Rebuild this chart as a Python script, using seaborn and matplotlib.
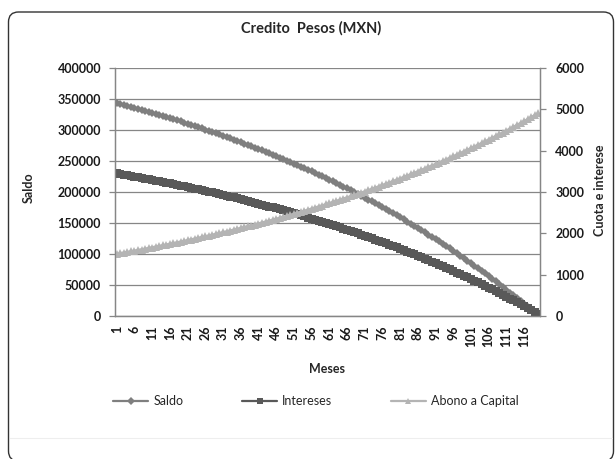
import matplotlib
matplotlib.use("Agg")
import matplotlib.pyplot as plt
import seaborn as sns
from matplotlib.patches import FancyBboxPatch
from matplotlib.transforms import IdentityTransform
from matplotlib.lines import Line2D

meses = list(range(1, 121))

saldo = [343500, 342000, 340500, 338900, 337300, 335800, 334200, 332600, 330900, 329300,
         327600, 326000, 324300, 322600, 320800, 319100, 317400, 315600, 313800, 312000,
         310100, 308300, 306400, 304500, 302600, 300700, 298800, 296800, 294800, 292800,
         290800, 288800, 286700, 284600, 282500, 280400, 278200, 276100, 273900, 271700,
         269400, 267200, 264900, 262600, 260300, 257900, 255600, 253200, 250800, 248300,
         245800, 243300, 240800, 238300, 235700, 233100, 230500, 227900, 225200, 222500,
         219800, 217000, 214200, 211400, 208600, 205700, 202800, 199900, 197000, 194000,
         191000, 187900, 184900, 181800, 178600, 175500, 172300, 169000, 165800, 162500,
         159200, 155800, 152400, 149000, 145500, 142000, 138500, 134900, 131300, 127700,
         124000, 120300, 116600, 112800, 109000, 105100, 101200, 97300, 93300, 89300,
         85200, 81100, 77000, 72800, 68600, 64300, 60000, 55700, 51300, 46800,
         42300, 37800, 33300, 28600, 24000, 19300, 14500, 9700, 4800, 0]

intereses = [3450, 3435, 3420, 3405, 3389, 3373, 3358, 3342, 3326, 3309,
             3293, 3276, 3260, 3243, 3226, 3208, 3191, 3174, 3156, 3138,
             3120, 3101, 3083, 3064, 3045, 3026, 3007, 2988, 2968, 2948,
             2928, 2908, 2888, 2867, 2846, 2825, 2804, 2782, 2761, 2739,
             2717, 2694, 2672, 2649, 2626, 2603, 2579, 2556, 2532, 2508,
             2483, 2458, 2433, 2408, 2383, 2357, 2331, 2305, 2279, 2252,
             2225, 2198, 2170, 2142, 2114, 2086, 2057, 2028, 1999, 1970,
             1940, 1910, 1879, 1849, 1818, 1786, 1755, 1723, 1690, 1658,
             1625, 1592, 1558, 1524, 1490, 1455, 1420, 1385, 1349, 1313,
             1277, 1240, 1203, 1166, 1128, 1090, 1051, 1012, 973, 933,
             893, 852, 811, 770, 728, 686, 643, 600, 557, 513,
             468, 423, 378, 333, 286, 240, 193, 145, 97, 48]

abono = [1500, 1515, 1530, 1545, 1561, 1577, 1592, 1608, 1624, 1641,
         1657, 1674, 1690, 1707, 1724, 1742, 1759, 1776, 1794, 1812,
         1830, 1849, 1867, 1886, 1905, 1924, 1943, 1962, 1982, 2002,
         2022, 2042, 2062, 2083, 2104, 2125, 2146, 2168, 2189, 2211,
         2233, 2256, 2278, 2301, 2324, 2347, 2371, 2394, 2418, 2442,
         2467, 2492, 2517, 2542, 2567, 2593, 2619, 2645, 2671, 2698,
         2725, 2752, 2780, 2808, 2836, 2864, 2893, 2922, 2951, 2980,
         3010, 3040, 3071, 3101, 3132, 3164, 3195, 3227, 3260, 3292,
         3325, 3358, 3392, 3426, 3460, 3495, 3530, 3565, 3601, 3637,
         3673, 3710, 3747, 3784, 3822, 3860, 3899, 3938, 3977, 4017,
         4057, 4098, 4139, 4180, 4222, 4264, 4307, 4350, 4393, 4437,
         4482, 4527, 4572, 4617, 4664, 4710, 4757, 4805, 4853, 4902]

tick_meses = [1, 6, 11, 16, 21, 26, 31, 36, 41, 46, 51, 56, 61, 66, 71, 76, 81, 86,
              91, 96, 101, 106, 111, 116]
left_ticks = [0, 50000, 100000, 150000, 200000, 250000, 300000, 350000, 400000]
right_ticks = [0, 1000, 2000, 3000, 4000, 5000, 6000]

sns.set_theme(style="white")
plt.rcParams['font.family'] = ['Lato', 'DejaVu Sans']

c_saldo = '#7f7f7f'
c_int = '#595959'
c_abono = '#b4b4b4'
c_axis = '#868686'

fig = plt.figure(figsize=(6.16, 4.59), dpi=100)
ax = fig.add_axes([115/616, 1 - 316/459, 425/616, 248/459])
ax2 = ax.twinx()

sns.lineplot(x=meses, y=saldo, ax=ax, color=c_saldo, marker='D', markersize=4.0,
             markeredgewidth=0, linewidth=2.0, legend=False, zorder=3)
sns.lineplot(x=meses, y=intereses, ax=ax2, color=c_int, marker='s', markersize=5.6,
             markeredgewidth=0, linewidth=2.0, legend=False)
sns.lineplot(x=meses, y=abono, ax=ax2, color=c_abono, marker='^', markersize=5.2,
             markeredgewidth=0, linewidth=2.0, legend=False)

ax.set_xlim(0.5, 120.5)
ax.set_ylim(0, 400000)
ax2.set_ylim(0, 6000)
ax.set_yticks(left_ticks)
ax.set_yticklabels([str(v) for v in left_ticks])
ax2.set_yticks(right_ticks)
ax2.set_yticklabels([str(v) for v in right_ticks])
ax.set_xticks(tick_meses)
ax.set_xticklabels([str(v) for v in tick_meses], rotation=90)
ax.set_xticks(meses, minor=True)

ax.grid(axis='y', color=c_axis, linewidth=0.9)
ax.set_axisbelow(True)
for a in (ax, ax2):
    for s in a.spines.values():
        s.set_color(c_axis)
        s.set_linewidth(0.9)
    a.spines['top'].set_visible(False)
ax.tick_params(axis='y', which='major', direction='out', length=4, width=0.9, color=c_axis,
               labelsize=9, pad=6)
ax2.tick_params(axis='y', which='major', direction='out', length=4, width=0.9, color=c_axis,
                labelsize=9, pad=7)
ax.tick_params(axis='x', which='both', direction='out', length=4, width=0.7, color=c_axis,
               labelsize=9, pad=3)
for lab in ax.get_yticklabels() + ax2.get_yticklabels() + ax.get_xticklabels():
    lab.set_fontweight('bold')
    lab.set_color('#1a1a1a')

ax.set_xlabel('Meses', fontsize=9, fontweight='bold', labelpad=11)
ax.set_ylabel('Saldo', fontsize=9, fontweight='bold')
ax.yaxis.set_label_coords((35 - 115) / 425, (316 - 188) / 248)
ax2.set_ylabel('Cuota e interese', fontsize=9, fontweight='bold', rotation=90)
ax2.yaxis.set_label_coords((594 - 115) / 425, (316 - 190) / 248)
fig.text(311/616, 1 - 28/459, 'Credito  Pesos (MXN)', ha='center', va='center',
         fontsize=10.5, fontweight='bold')

handles = [
    Line2D([], [], color=c_saldo, marker='D', markersize=3.6, markeredgewidth=0, linewidth=1.6),
    Line2D([], [], color=c_int, marker='s', markersize=5, markeredgewidth=0, linewidth=1.6),
    Line2D([], [], color=c_abono, marker='^', markersize=4.6, markeredgewidth=0, linewidth=1.6),
]
fig.legend(handles, ['Saldo', 'Intereses', 'Abono a Capital'], loc='center',
           bbox_to_anchor=(316/616, 1 - 401/459), ncol=3, frameon=False, fontsize=9,
           handlelength=2.8, columnspacing=4.7, numpoints=1, handletextpad=0.4)

# chart border (rounded rectangle) and faint separator line
border = FancyBboxPatch((8.5, -2), 605, 449, boxstyle='round,pad=0,rounding_size=10',
                        transform=IdentityTransform(), facecolor='none',
                        edgecolor='#333333', linewidth=1.0)
fig.patches.append(border)
fig.add_artist(Line2D([10/616, 612/616], [1 - 438/459, 1 - 438/459], transform=fig.transFigure,
                      color='#eeeeee', linewidth=0.8))

fig.savefig('out.png', dpi=100)
